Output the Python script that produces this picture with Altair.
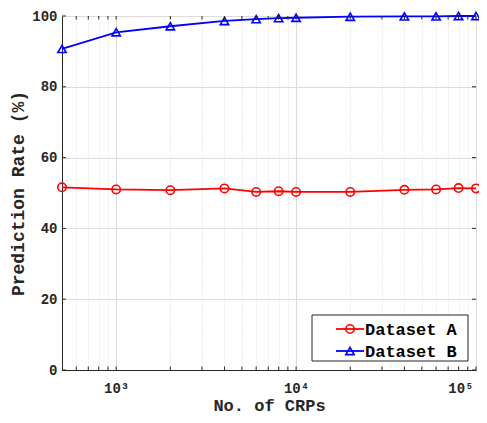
import altair as alt
import pandas as pd

# ---- data ----
crps = [500, 1000, 2000, 4000, 6000, 8000, 10000, 20000, 40000, 60000, 80000, 100000]
dataset_a = [51.6, 51.0, 50.8, 51.3, 50.3, 50.5, 50.3, 50.3, 50.9, 51.0, 51.4, 51.3]
dataset_b = [90.7, 95.4, 97.1, 98.6, 99.1, 99.4, 99.5, 99.8, 99.9, 99.9, 100.0, 100.0]
series_names = ["Dataset A", "Dataset B"]
series_colors = ["#ff0000", "#0000ff"]
series_shapes = ["circle", "triangle-up"]

major_x = [1000, 10000, 100000]
minor_x = [600, 700, 800, 900,
           2000, 3000, 4000, 5000, 6000, 7000, 8000, 9000,
           20000, 30000, 40000, 50000, 60000, 70000, 80000, 90000]
y_ticks = [0, 20, 40, 60, 80, 100]

W, H = 414, 354
FONT = "Liberation Mono"
AXC = "#262626"

df = pd.DataFrame({
    "crps": crps * 2,
    "rate": dataset_a + dataset_b,
    "series": [series_names[0]] * len(crps) + [series_names[1]] * len(crps),
})

xscale = alt.Scale(type="log", domain=[500, 100000], nice=False)
yscale = alt.Scale(domain=[0, 100], nice=False)
color = alt.Color("series:N", scale=alt.Scale(domain=series_names, range=series_colors), legend=None)
shape = alt.Shape("series:N", scale=alt.Scale(domain=series_names, range=series_shapes), legend=None)

is_major = "datum.value == 1000 || datum.value == 10000 || datum.value == 100000"

xaxis = alt.Axis(
    values=major_x + minor_x,
    title="No. of CRPs",
    labelExpr="datum.value == 1000 ? '10³' : datum.value == 10000 ? '10⁴' : datum.value == 100000 ? '10⁵' : ''",
    labelFlush=True,
    labelFlushOffset=-3,
    labelOverlap=False,
    grid=True,
    gridColor=alt.condition(is_major, alt.value("#dcdcdc"), alt.value("#d8d8d8")),
    gridDash=alt.condition(is_major, alt.value([]), alt.value([1, 2])),
    gridWidth=1,
    ticks=False,
    domainColor=AXC,
    domainWidth=1,
    labelFont=FONT, labelFontSize=14, labelFontWeight="bold", labelColor=AXC, labelPadding=11,
    titleFont=FONT, titleFontSize=17, titleFontWeight="bold", titleColor=AXC, titlePadding=2,
)
yaxis = alt.Axis(
    values=y_ticks,
    title="Prediction Rate (%)",
    grid=True, gridColor="#dcdcdc", gridWidth=1,
    ticks=False,
    domainColor=AXC, domainWidth=1,
    labelFont=FONT, labelFontSize=14, labelFontWeight="bold", labelColor=AXC, labelPadding=5,
    titleFont=FONT, titleFontSize=18, titleFontWeight="bold", titleColor=AXC, titlePadding=4,
)

base = alt.Chart(df)
lines = base.mark_line(strokeWidth=1.8).encode(
    x=alt.X("crps:Q", scale=xscale, axis=xaxis),
    y=alt.Y("rate:Q", scale=yscale, axis=yaxis),
    color=color,
    detail="series:N",
)
points = base.mark_point(filled=False, size=70, strokeWidth=1.6, opacity=1).encode(
    x=alt.X("crps:Q", scale=xscale),
    y=alt.Y("rate:Q", scale=yscale),
    color=color,
    shape=shape,
)

# inward ticks
tick_x_df = pd.DataFrame({"v": major_x + minor_x})
bottom_ticks = alt.Chart(tick_x_df).mark_rule(color=AXC, strokeWidth=1).encode(
    x=alt.X("v:Q", scale=xscale), y=alt.value(H), y2=alt.value(H - 3.5))
top_ticks = alt.Chart(tick_x_df).mark_rule(color=AXC, strokeWidth=1).encode(
    x=alt.X("v:Q", scale=xscale), y=alt.value(0), y2=alt.value(3.5))
tick_y_df = pd.DataFrame({"v": y_ticks})
left_ticks = alt.Chart(tick_y_df).mark_rule(color=AXC, strokeWidth=1).encode(
    y=alt.Y("v:Q", scale=yscale), x=alt.value(0), x2=alt.value(4))
right_ticks = alt.Chart(tick_y_df).mark_rule(color=AXC, strokeWidth=1).encode(
    y=alt.Y("v:Q", scale=yscale), x=alt.value(W), x2=alt.value(W - 4))

# legend (drawn manually)
leg_df = pd.DataFrame({"series": series_names})
leg_box = alt.Chart(leg_df.head(1)).mark_rect(fill="white", stroke=AXC, strokeWidth=1).encode(
    x=alt.value(250), x2=alt.value(406), y=alt.value(299), y2=alt.value(345))
leg_layers = [leg_box]
row_y = [313, 335]
for i, name in enumerate(series_names):
    d = leg_df[leg_df.series == name]
    leg_layers.append(alt.Chart(d).mark_rule(strokeWidth=1.8).encode(
        x=alt.value(274), x2=alt.value(302), y=alt.value(row_y[i]), color=color))
    leg_layers.append(alt.Chart(d).mark_point(filled=False, size=70, strokeWidth=1.6, opacity=1).encode(
        x=alt.value(288), y=alt.value(row_y[i]), color=color, shape=shape))
    leg_layers.append(alt.Chart(d).mark_text(
        align="left", baseline="middle", font=FONT, fontSize=17, fontWeight="bold", color="#000000").encode(
        x=alt.value(303), y=alt.value(row_y[i] + 1), text="series:N"))

chart = alt.layer(
    lines, points, bottom_ticks, top_ticks, left_ticks, right_ticks, *leg_layers
).properties(
    width=W, height=H,
    autosize=alt.AutoSizeParams(type="none"),
    padding={"left": 54, "top": 8, "right": 3, "bottom": 45},
).configure_view(stroke=AXC, strokeWidth=1).configure(background="white")

chart.save("out.html", embed_options={"renderer": "svg", "actions": False})
